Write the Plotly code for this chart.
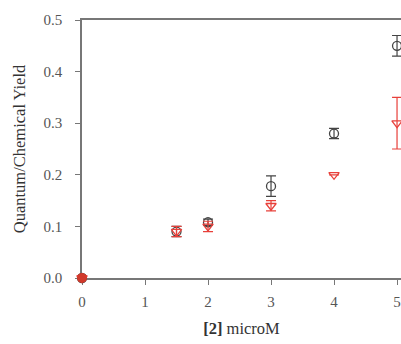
import plotly.graph_objects as go

conc = [0, 1.5, 2, 3, 4, 5]
quantum = [0.0, 0.09, 0.108, 0.178, 0.28, 0.45]
quantum_err = [0.0, 0.01, 0.006, 0.02, 0.01, 0.02]
chem = [0.0, 0.09, 0.10, 0.14, 0.20, 0.30]
chem_err = [0.0, 0.01, 0.01, 0.01, 0.0, 0.05]

black = "#444444"
red = "#e8403a"

fig = go.Figure()
fig.add_trace(go.Scatter(
    x=conc, y=quantum, mode="markers",
    marker=dict(symbol="circle-open", size=9, color=black, line=dict(width=1.3)),
    error_y=dict(type="data", array=quantum_err, color=black, thickness=1.2, width=5, visible=True),
    cliponaxis=False, showlegend=False))
fig.add_trace(go.Scatter(
    x=conc, y=chem, mode="markers",
    marker=dict(symbol="triangle-down-open", size=9, color=red, line=dict(width=1.3)),
    error_y=dict(type="data", array=chem_err, color=red, thickness=1.2, width=5, visible=True),
    cliponaxis=False, showlegend=False))
fig.add_trace(go.Scatter(
    x=[conc[0]], y=[chem[0]], mode="markers",
    marker=dict(symbol="circle", size=10, color="#d0392b", line=dict(width=0)),
    cliponaxis=False, showlegend=False))

tickfont = dict(family="Liberation Serif", size=15, color="#555555")
titlefont = dict(family="Liberation Serif", size=16.5, color="#333333")
fig.update_layout(
    width=401, height=344,
    margin=dict(l=82, r=0, t=20, b=66),
    paper_bgcolor="white", plot_bgcolor="white",
    font=tickfont,
    xaxis=dict(range=[0, 5.063], tickvals=[0, 1, 2, 3, 4, 5], tickfont=tickfont,
               showline=True, linecolor="#777777", linewidth=1.5, mirror=True,
               ticks="outside", ticklen=5, tickcolor="#777777", showgrid=False, zeroline=False,
               ticklabelstandoff=4, layer="below traces",
               title=dict(text="<b>[2]</b> microM", font=titlefont, standoff=14)),
    yaxis=dict(range=[0, 0.5], tickvals=[0, 0.1, 0.2, 0.3, 0.4, 0.5], tickformat=".1f", tickfont=tickfont,
               showline=True, linecolor="#777777", linewidth=1.5,
               ticks="outside", ticklen=5, tickcolor="#777777", showgrid=False, zeroline=False,
               ticklabelstandoff=10, layer="below traces",
               title=dict(text="Quantum/Chemical Yield", font=titlefont, standoff=14)),
)
fig.write_html("out.html")
